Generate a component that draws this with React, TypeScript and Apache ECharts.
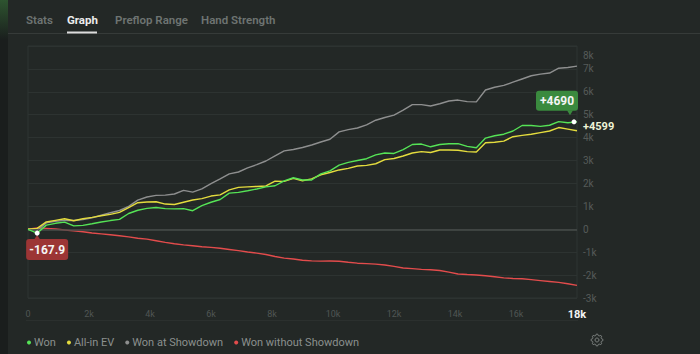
import React, { useEffect, useRef } from "react";
import * as echarts from "echarts";

// Hands played between consecutive points
const HAND_STEP = 300;
const X_MAX = 18000;
const Y_MIN = -3000;
const Y_MAX = 8000;

const WON = [
  0, -168, 180, 260, 310, 150, 170, 240, 320, 380, 430, 690, 830, 910, 950, 900,
  890, 900, 810, 1030, 1180, 1300, 1580, 1610, 1680, 1760, 1850, 1900, 2110, 2250,
  2150, 2150, 2420, 2550, 2800, 2920, 3000, 3080, 3250, 3330, 3310, 3480, 3700, 3720,
  3600, 3700, 3730, 3740, 3620, 3560, 3980, 4080, 4150, 4290, 4530, 4530, 4490, 4540,
  4700, 4650, 4690,
];
const ALL_IN_EV = [
  0, 40, 320, 390, 460, 370, 460, 520, 590, 650, 740, 950, 1160, 1190, 1200, 1100,
  1080, 1180, 1280, 1340, 1450, 1500, 1720, 1830, 1850, 1870, 1890, 2100, 2090, 2220,
  2120, 2200, 2380, 2480, 2590, 2660, 2760, 2790, 2860, 3040, 3090, 3200, 3330, 3390,
  3350, 3460, 3460, 3450, 3390, 3370, 3780, 3800, 3850, 4040, 4100, 4150, 4220, 4290,
  4440, 4370, 4300,
];
const WON_SHOWDOWN = [
  0, -50, 280, 350, 390, 380, 420, 500, 610, 720, 820, 1000, 1270, 1410, 1480, 1490,
  1540, 1700, 1620, 1760, 1990, 2200, 2420, 2500, 2680, 2820, 2980, 3200, 3420, 3480,
  3570, 3680, 3810, 3930, 4250, 4350, 4420, 4560, 4760, 4880, 4980, 5200, 5440, 5440,
  5380, 5480, 5600, 5640, 5570, 5560, 6080, 6200, 6280, 6420, 6560, 6700, 6770, 6820,
  7030, 7060, 7120,
];
const WON_NO_SHOWDOWN = [
  0, 60, 40, 10, -30, -70, -110, -160, -200, -240, -280, -330, -390, -430, -500, -570,
  -630, -680, -720, -760, -790, -830, -880, -930, -990, -1040, -1100, -1190, -1260, -1300,
  -1350, -1380, -1390, -1385, -1395, -1440, -1480, -1500, -1520, -1560, -1620, -1690, -1720, -1750,
  -1770, -1800, -1870, -1950, -1975, -1995, -2030, -2070, -2120, -2150, -2160, -2200, -2240, -2280,
  -2320, -2380, -2450,
];

const SERIES_NAMES = ["Won", "All-in EV", "Won at Showdown", "Won without Showdown"];
const SERIES_COLORS = ["#55e356", "#e4dc3e", "#8e8f8f", "#e34c4c"];
const TABS = ["Stats", "Graph", "Preflop Range", "Hand Strength"];
const ACTIVE_TAB = "Graph";

const WON_MIN = -167.9;
const WON_MIN_HAND = 300;
const WON_END = 4690;
const END_LABEL = "+4599";

const fmtK = (v: number) => (v === 0 ? "0" : `${v / 1000}k`);

export default function App() {
  const ref = useRef<HTMLDivElement>(null);

  useEffect(() => {
    document.body.style.margin = "0";
    const chart = echarts.init(ref.current!, null, { renderer: "svg" });
    const pairs = (arr: number[]) => arr.map((v, i) => [i * HAND_STEP, v]);
    const font = "Roboto, 'Noto Sans', sans-serif";
    const dataSets = [WON, ALL_IN_EV, WON_SHOWDOWN, WON_NO_SHOWDOWN];
    const order = [3, 2, 1, 0];

    chart.setOption({
      animation: false,
      backgroundColor: "#232826",
      textStyle: { fontFamily: font },
      grid: { left: 28, right: 123, top: 46, bottom: 56, show: true, borderColor: "#2e3432", borderWidth: 1 },
      legend: {
        data: SERIES_NAMES,
        left: 22,
        top: 332,
        icon: "circle",
        itemWidth: 4,
        itemHeight: 4,
        itemGap: 11,
        textStyle: { color: "#8b908e", fontSize: 11, fontFamily: font, padding: [0, 0, 0, -2] },
      },
      xAxis: {
        type: "value",
        min: 0,
        max: X_MAX,
        interval: 2000,
        axisLine: { show: false },
        axisTick: { show: false },
        splitLine: { show: false },
        axisLabel: {
          margin: 11,
          color: "#505654",
          fontSize: 9,
          formatter: (v: number) => (v === X_MAX ? `{last|${fmtK(v)}}` : fmtK(v)),
          rich: { last: { color: "#f2f2f2", fontSize: 11, fontWeight: "bold" } },
        },
      },
      yAxis: {
        type: "value",
        position: "right",
        min: Y_MIN,
        max: Y_MAX,
        interval: 1000,
        axisLine: { show: false },
        axisTick: { show: false },
        splitLine: { show: true, lineStyle: { color: "#2d3331", width: 1 } },
        axisLabel: {
          margin: 6,
          color: "#565b59",
          fontSize: 10,
          formatter: (v: number) => (v === Y_MAX ? `{top|${fmtK(v)}}` : fmtK(v)),
          rich: { top: { padding: [18, 0, 0, 0], color: "#565b59", fontSize: 10 } },
        },
      },
      series: order.map((k, idx) => ({
        type: "line",
        name: SERIES_NAMES[k],
        data: pairs(dataSets[k]),
        showSymbol: false,
        symbol: "none",
        color: SERIES_COLORS[k],
        lineStyle: { color: SERIES_COLORS[k], width: 1.4 },
        z: 2 + idx,
        markLine:
          idx === 0
            ? {
                silent: true,
                symbol: "none",
                label: { show: false },
                lineStyle: { color: "#474c4a", type: "solid", width: 1.5 },
                data: [{ yAxis: 0 }],
              }
            : undefined,
      })),
    });

    const pEnd = chart.convertToPixel({ gridIndex: 0 }, [X_MAX, WON_END]) as number[];
    const pMin = chart.convertToPixel({ gridIndex: 0 }, [WON_MIN_HAND, WON_MIN]) as number[];
    const ex = pEnd[0] - 3;
    const ey = pEnd[1];
    const mx = pMin[0];
    const my = pMin[1];

    // gear polygon
    const gearPts: number[][] = [];
    const gx = 597, gy = 340;
    for (let i = 0; i < 32; i++) {
      const a = (i / 32) * Math.PI * 2 - Math.PI / 32;
      const r = i % 4 < 2 ? 6 : 4.6;
      gearPts.push([gx + r * Math.cos(a), gy + r * Math.sin(a)]);
    }

    const tabX = [26, 67, 115, 201];
    const graphic: any[] = [
      { type: "rect", shape: { x: 0, y: 0, width: 8, height: 354 }, style: { fill: "#1a1e1d" }, z: 100 },
      {
        type: "rect",
        shape: { x: 0, y: 0, width: 8, height: 40 },
        style: {
          fill: new echarts.graphic.LinearGradient(0, 0, 0, 1, [
            { offset: 0, color: "rgba(70,150,70,0.45)" },
            { offset: 1, color: "rgba(70,150,70,0)" },
          ]),
        },
        z: 101,
      },
      { type: "line", shape: { x1: 8, y1: 33.5, x2: 700, y2: 33.5 }, style: { stroke: "#363b39", lineWidth: 1 }, z: 100 },
      ...TABS.map((t, i) => ({
        type: "text",
        x: tabX[i],
        y: 20,
        style: {
          text: t,
          fill: t === ACTIVE_TAB ? "#ececec" : "#6e7472",
          font: `${t === ACTIVE_TAB ? "bold" : "600"} 11.5px ${font}`,
          verticalAlign: "middle",
          align: "left",
        },
        z: 100,
      })),
      { type: "rect", shape: { x: 67, y: 31.5, width: 30, height: 2 }, style: { fill: "#dcdcdc" }, z: 101 },
      { type: "line", shape: { x1: 26, y1: 320.5, x2: 578, y2: 320.5 }, style: { stroke: "#2b302e", lineWidth: 1 }, z: 100 },
      { type: "polygon", shape: { points: gearPts }, style: { fill: "none", stroke: "#7a7f7d", lineWidth: 1 }, z: 100 },
      { type: "circle", shape: { cx: gx, cy: gy, r: 2 }, style: { fill: "none", stroke: "#7a7f7d", lineWidth: 1 }, z: 100 },
      // green end tooltip
      { type: "rect", shape: { x: ex - 38, y: ey - 31, width: 42, height: 20, r: 3 }, style: { fill: "#3a8a3e" }, z: 110 },
      {
        type: "polygon",
        shape: { points: [[ex - 7, ey - 11.5], [ex - 1, ey - 11.5], [ex - 4, ey - 6.5]] },
        style: { fill: "#3a8a3e" },
        z: 110,
      },
      {
        type: "text",
        x: ex - 17,
        y: ey - 21,
        style: { text: "+4690", fill: "#f4f4f4", font: `bold 12px ${font}`, align: "center", verticalAlign: "middle" },
        z: 111,
      },
      { type: "circle", shape: { cx: ex, cy: ey, r: 2.5 }, style: { fill: "#ffffff" }, z: 112 },
      {
        type: "text",
        x: 583,
        y: ey + 4.5,
        style: { text: END_LABEL, fill: "#eef3d6", font: `bold 11px ${font}`, align: "left", verticalAlign: "middle" },
        z: 111,
      },
      // red min tooltip
      { type: "rect", shape: { x: mx - 11, y: my + 6, width: 42, height: 21, r: 3 }, style: { fill: "#9c3535" }, z: 110 },
      {
        type: "polygon",
        shape: { points: [[mx - 3, my + 6.5], [mx + 3, my + 6.5], [mx, my + 2]] },
        style: { fill: "#9c3535" },
        z: 110,
      },
      {
        type: "text",
        x: mx + 10,
        y: my + 16.5,
        style: { text: "-167.9", fill: "#f4f4f4", font: `bold 12px ${font}`, align: "center", verticalAlign: "middle" },
        z: 111,
      },
      { type: "circle", shape: { cx: mx, cy: my, r: 2.5 }, style: { fill: "#ffffff" }, z: 112 },
    ];
    chart.setOption({ graphic });

    return () => chart.dispose();
  }, []);

  return <div ref={ref} style={{ width: 700, height: 354 }} />;
}
